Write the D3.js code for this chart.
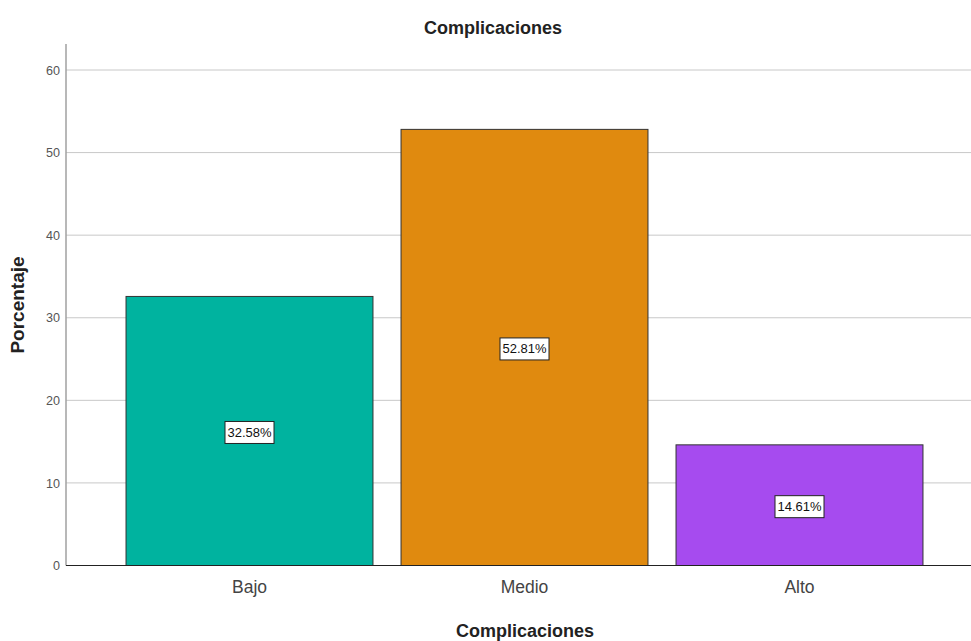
<!DOCTYPE html>
<html><head><meta charset="utf-8">
<script src="https://cdn.jsdelivr.net/npm/d3@7"></script>
<style>body{margin:0;background:#fff;}svg{display:block;font-family:"Liberation Sans",Arial,sans-serif;}</style>
</head><body>
<svg id="c" width="971" height="641"></svg>
<script>
const categories = ["Bajo", "Medio", "Alto"];
const values = [32.58, 52.81, 14.61];
const labels = ["32.58%", "52.81%", "14.61%"];
const colors = ["#00b39f", "#e08a0f", "#a64bef"];
const yTicks = [0, 10, 20, 30, 40, 50, 60];

const svg = d3.select("#c");
const plotLeft = 66, plotRight = 971, plotTop = 44, plotBottom = 565.5;
const y = d3.scaleLinear().domain([0, 60]).range([plotBottom, 70]);
const x = d3.scaleBand().domain(categories).range([112, 937]).paddingInner(0.102).paddingOuter(0.051);

// gridlines
svg.append("g").selectAll("line").data(yTicks.filter(d => d > 0)).join("line")
  .attr("x1", plotLeft).attr("x2", plotRight)
  .attr("y1", d => y(d)).attr("y2", d => y(d))
  .attr("stroke", "#c8c8c8").attr("stroke-width", 1);

// y axis
const yAxis = d3.axisLeft(y).tickValues(yTicks).tickSize(0).tickPadding(6);
const gy = svg.append("g").attr("transform", `translate(${plotLeft},0)`).call(yAxis);
gy.select(".domain").remove();
gy.selectAll("text").attr("font-size", 13).attr("fill", "#555").attr("font-family", "'Liberation Sans',Arial,sans-serif")
  .attr("textLength", d => String(d).length * 7).attr("lengthAdjust", "spacingAndGlyphs");
svg.append("line").attr("x1", plotLeft).attr("x2", plotLeft).attr("y1", plotTop).attr("y2", plotBottom)
  .attr("stroke", "#a0a0a0").attr("stroke-width", 1.5);

// bars
svg.append("g").selectAll("rect").data(values).join("rect")
  .attr("x", (d, i) => x(categories[i]))
  .attr("width", x.bandwidth())
  .attr("y", d => y(d))
  .attr("height", d => y(0) - y(d))
  .attr("fill", (d, i) => colors[i])
  .attr("stroke", "#333").attr("stroke-width", 1);

// baseline
svg.append("line").attr("x1", plotLeft).attr("x2", plotRight).attr("y1", plotBottom).attr("y2", plotBottom)
  .attr("stroke", "#222").attr("stroke-width", 1.2);

// value labels
const lg = svg.append("g");
values.forEach((v, i) => {
  const cx = x(categories[i]) + x.bandwidth() / 2;
  const cy = y(v / 2) + 1.5;
  lg.append("rect").attr("x", cx - 24.5).attr("y", cy - 11).attr("width", 49).attr("height", 22)
    .attr("fill", "#fff").attr("stroke", "#222").attr("stroke-width", 1);
  lg.append("text").attr("x", cx).attr("y", cy + 4.5)
    .attr("text-anchor", "middle").attr("font-size", 13).attr("fill", "#111")
    .attr("textLength", 44).attr("lengthAdjust", "spacingAndGlyphs")
    .text(labels[i]);
});

// x axis labels
const xAxis = d3.axisBottom(x).tickSize(0).tickPadding(15);
const gx = svg.append("g").attr("transform", `translate(0,${plotBottom})`).call(xAxis);
gx.select(".domain").remove();
gx.selectAll("text").attr("font-size", 17.5).attr("fill", "#444").attr("font-family", "'Liberation Sans',Arial,sans-serif");

// titles
svg.append("text").attr("x", 493).attr("y", 34).attr("text-anchor", "middle")
  .attr("font-size", 18).attr("font-weight", "bold").attr("fill", "#222").text("Complicaciones");
svg.append("text").attr("x", 525).attr("y", 637).attr("text-anchor", "middle")
  .attr("font-size", 18).attr("font-weight", "bold").attr("fill", "#222").text("Complicaciones");
svg.append("text").attr("transform", "translate(24,305) rotate(-90)").attr("text-anchor", "middle")
  .attr("font-size", 19).attr("font-weight", "bold").attr("fill", "#222").text("Porcentaje");
</script>
</body></html>
